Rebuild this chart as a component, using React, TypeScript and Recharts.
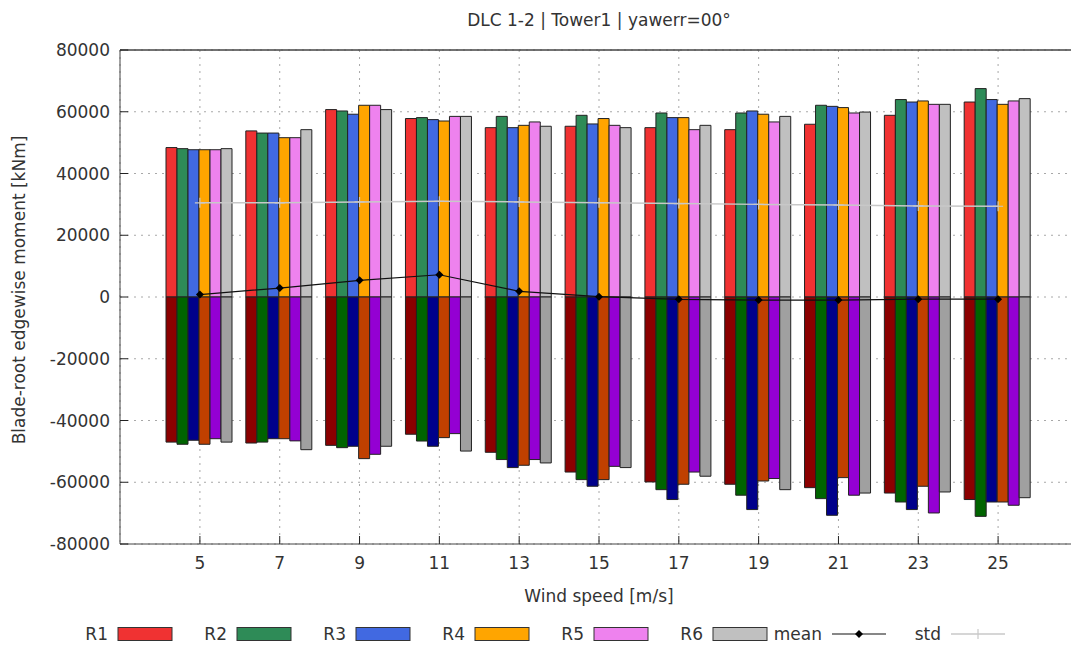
import React from "react";
import {
  ComposedChart,
  Bar,
  Line,
  XAxis,
  YAxis,
  CartesianGrid,
  Legend,
  ReferenceLine,
} from "recharts";

const windSpeeds = ["5", "7", "9", "11", "13", "15", "17", "19", "21", "23", "25"];

// maxima per rotor / seed
const r1Max = [48400, 53800, 60700, 57800, 54850, 55300, 54850, 54200, 55950, 58850, 63150];
const r2Max = [48050, 53100, 60250, 58100, 58500, 58850, 59600, 59600, 62100, 63950, 67500];
const r3Max = [47700, 53100, 59200, 57450, 54850, 56050, 58100, 60250, 61750, 63150, 63950];
const r4Max = [47700, 51600, 62100, 57000, 55600, 57800, 58100, 59200, 61350, 63500, 62400];
const r5Max = [47700, 51600, 62100, 58500, 56700, 55600, 54200, 56700, 59600, 62400, 63500];
const r6Max = [48050, 54200, 60700, 58500, 55300, 54850, 55600, 58500, 59900, 62400, 64250];

// minima
const r1Min = [-47000, -47300, -48050, -44450, -50300, -56700, -59900, -60650, -61750, -63500, -65600];
const r2Min = [-47700, -47000, -48800, -46650, -52650, -59150, -62400, -64200, -65300, -66400, -71050];
const r3Min = [-46400, -45900, -48350, -48350, -55250, -61300, -65600, -68850, -70700, -68850, -66400];
const r4Min = [-47700, -45900, -52350, -45550, -54500, -59150, -60650, -59600, -58500, -61300, -66400];
const r5Min = [-45900, -46600, -50950, -44250, -52650, -54850, -56700, -58800, -64200, -69950, -67450];
const r6Min = [-47000, -49450, -48350, -49900, -53750, -55250, -58050, -62400, -63500, -63150, -65000];

const meanValues = [800, 2900, 5400, 7200, 1850, 100, -750, -1000, -1000, -700, -700];
const stdValues = [30500, 30500, 30800, 31000, 30800, 30550, 30250, 30000, 29800, 29500, 29400];

const yTicks = [-80000, -60000, -40000, -20000, 0, 20000, 40000, 60000, 80000];

const seriesNames = ["R1", "R2", "R3", "R4", "R5", "R6"];
const maxSeries = [r1Max, r2Max, r3Max, r4Max, r5Max, r6Max];
const minSeries = [r1Min, r2Min, r3Min, r4Min, r5Min, r6Min];
const posColors = ["#f03232", "#2e8b57", "#4169e1", "#ffa500", "#ee82ee", "#c0c0c0"];
const negColors = ["#8b0000", "#006400", "#00008b", "#c04000", "#9400d3", "#a0a0a0"];

const chartData = windSpeeds.map((ws, i) => {
  const row: Record<string, number | string> = { ws, mean: meanValues[i], std: stdValues[i] };
  seriesNames.forEach((n, k) => {
    row[n + "max"] = maxSeries[k][i];
    row[n + "min"] = minSeries[k][i];
  });
  return row;
});

const textColor = "#333";
const fontSize = 17;

const MeanDot = (props: any) => {
  const { cx, cy, index } = props;
  if (cx == null || cy == null) return <g key={index} />;
  return (
    <path
      key={index}
      d={`M${cx},${cy - 4}L${cx + 4},${cy}L${cx},${cy + 4}L${cx - 4},${cy}Z`}
      fill="#000"
    />
  );
};

const StdDot = (props: any) => {
  const { cx, cy, index } = props;
  if (cx == null || cy == null) return <g key={index} />;
  return (
    <path
      key={index}
      d={`M${cx - 5},${cy}H${cx + 5}M${cx},${cy - 5}V${cy + 5}`}
      stroke="#c8c8c8"
      strokeWidth={1.2}
    />
  );
};

function ChartLegend() {
  const step = 119;
  const sample = (k: number) => 118 + step * k;
  return (
    <svg width={1071} height={42} style={{ display: "block" }}>
      {seriesNames.map((n, k) => (
        <g key={n}>
          <text x={sample(k) - 10} y={36} textAnchor="end" fill={textColor} fontSize={fontSize}>
            {n}
          </text>
          <rect x={sample(k)} y={23.5} width={54} height={13} fill={posColors[k]} stroke="#333" />
        </g>
      ))}
      <text x={sample(6) - 10} y={36} textAnchor="end" fill={textColor} fontSize={fontSize}>
        mean
      </text>
      <line x1={sample(6)} x2={sample(6) + 54} y1={30} y2={30} stroke="#111" strokeWidth={1.2} />
      <path
        d={`M${sample(6) + 27},26L${sample(6) + 31},30L${sample(6) + 27},34L${sample(6) + 23},30Z`}
        fill="#000"
      />
      <text x={sample(7) - 10} y={36} textAnchor="end" fill={textColor} fontSize={fontSize}>
        std
      </text>
      <line x1={sample(7)} x2={sample(7) + 54} y1={30} y2={30} stroke="#c8c8c8" strokeWidth={1.5} />
      <path d={`M${sample(7) + 27},25V35`} stroke="#c8c8c8" strokeWidth={1.2} />
    </svg>
  );
}

const YLabel = (props: any) => {
  const vb = props.viewBox || { x: 0, y: 50, width: 120, height: 494 };
  const x = vb.x + 25;
  const y = vb.y + vb.height / 2 - 7;
  return (
    <text
      x={x}
      y={y}
      transform={`rotate(-90 ${x} ${y})`}
      textAnchor="middle"
      fill={textColor}
      fontSize={fontSize}
    >
      Blade-root edgewise moment [kNm]
    </text>
  );
};

export default function App() {
  return (
    <div
      style={{
        position: "absolute",
        left: 0,
        top: 0,
        width: 1071,
        height: 646,
        overflow: "hidden",
        background: "#fff",
        fontFamily: "'DejaVu Sans', sans-serif",
      }}
    >
      <div
        style={{
          position: "absolute",
          left: 120,
          top: 10,
          width: 958,
          height: 20,
          lineHeight: "20px",
          fontSize,
          color: textColor,
          textAlign: "center",
          whiteSpace: "nowrap",
        }}
      >
        DLC 1-2 | Tower1 | yawerr=00°
      </div>
      <ComposedChart
        width={1080}
        height={646}
        data={chartData}
        stackOffset="sign"
        barCategoryGap={6}
        barGap={0}
        margin={{ top: 49, right: 2, bottom: 0, left: 0 }}
      >
        <CartesianGrid stroke="#a8a8a8" strokeDasharray="2 5" />
        <XAxis
          dataKey="ws"
          interval={0}
          padding={{ left: 40, right: 40 }}
          height={60}
          tickSize={-8}
          tickMargin={21}
          tick={{ fill: textColor, fontSize }}
          tickLine={{ stroke: "#222" }}
          axisLine={{ stroke: "#444" }}
          label={{ value: "Wind speed [m/s]", position: "insideBottom", offset: 2, fill: textColor, fontSize }}
        />
        <XAxis
          xAxisId="top"
          orientation="top"
          dataKey="ws"
          interval={0}
          padding={{ left: 40, right: 40 }}
          height={1}
          tick={false}
          tickSize={-8}
          tickLine={{ stroke: "#222" }}
          axisLine={{ stroke: "#444" }}
        />
        <YAxis
          width={120}
          domain={[-80000, 80000]}
          ticks={yTicks}
          interval={0}
          tickSize={-8}
          tickMargin={18}
          tick={{ fill: textColor, fontSize }}
          tickLine={{ stroke: "#222" }}
          axisLine={{ stroke: "#444" }}
          label={YLabel}
        />
        <ReferenceLine y={80000} stroke="#444" strokeWidth={1} />
        <Legend
          verticalAlign="bottom"
          wrapperStyle={{ left: 0, width: 1071, height: 42 }}
          content={() => <ChartLegend />}
        />
        {seriesNames.flatMap((n, k) => [
          <Bar
            key={n + "max"}
            dataKey={n + "max"}
            stackId={"s" + k}
            fill={posColors[k]}
            stroke="#222"
            strokeWidth={1}
            isAnimationActive={false}
          />,
          <Bar
            key={n + "min"}
            dataKey={n + "min"}
            stackId={"s" + k}
            fill={negColors[k]}
            stroke="#222"
            strokeWidth={1}
            isAnimationActive={false}
          />,
        ])}
        <Line
          dataKey="mean"
          stroke="#111"
          strokeWidth={1.2}
          dot={MeanDot}
          activeDot={false}
          isAnimationActive={false}
        />
        <Line
          xAxisId="top"
          dataKey="std"
          stroke="#c8c8c8"
          strokeWidth={1.5}
          dot={StdDot}
          activeDot={false}
          isAnimationActive={false}
        />
      </ComposedChart>
    </div>
  );
}
